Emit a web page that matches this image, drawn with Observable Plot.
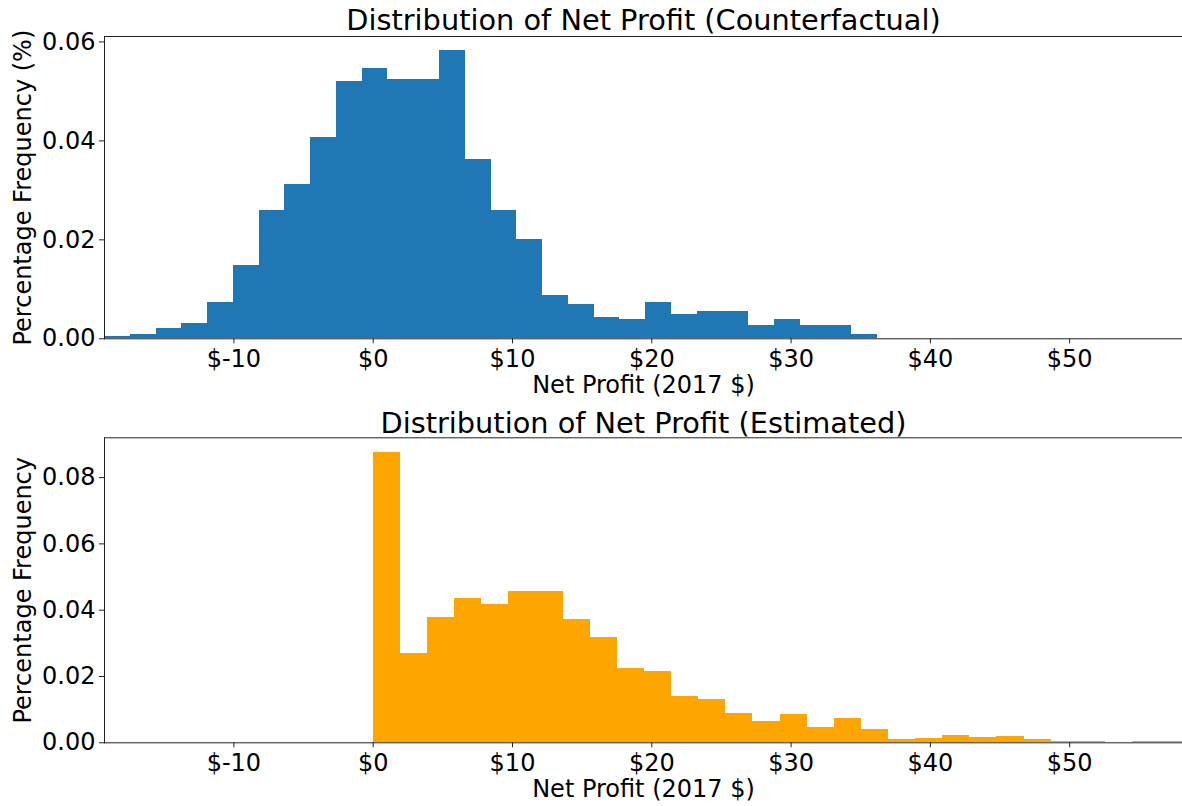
<!DOCTYPE html>
<html>
<head>
<meta charset="utf-8">
<script src="https://cdn.jsdelivr.net/npm/d3@7"></script>
<script src="https://cdn.jsdelivr.net/npm/@observablehq/plot@0.6"></script>
<style>
  html, body { margin: 0; padding: 0; background: #fff; }
  #chart svg { display: block; }
</style>
</head>
<body>
<div id="chart"></div>
<script>
// ---- Data ----
// Counterfactual histogram: bin edges (2017 $) and frequencies
const topEdges = [-19.29, -17.44, -15.59, -13.74, -11.89, -10.04, -8.19, -6.34, -4.49, -2.64,
  -0.79, 1.06, 2.91, 4.76, 6.61, 8.46, 10.31, 12.16, 14.01, 15.86,
  17.71, 19.56, 21.41, 23.26, 25.11, 26.96, 28.81, 30.66, 32.51, 34.36, 36.21];
const topFreq = [0.0005, 0.0009, 0.0021, 0.0030, 0.0074, 0.0148, 0.0259, 0.0311, 0.0406, 0.0521,
  0.0546, 0.0525, 0.0525, 0.0582, 0.0362, 0.0259, 0.0201, 0.0088, 0.0069, 0.0044,
  0.0040, 0.0074, 0.0049, 0.0056, 0.0056, 0.0026, 0.0039, 0.0026, 0.0026, 0.0009];

// Estimated histogram: bin edges (2017 $) and frequencies
const botEdges = [0, 1.95, 3.89, 5.84, 7.79, 9.74, 11.68, 13.63, 15.58, 17.52,
  19.47, 21.42, 23.36, 25.31, 27.26, 29.21, 31.15, 33.10, 35.05, 36.99,
  38.94, 40.89, 42.83, 44.78, 46.73, 48.68, 50.62, 52.57, 54.52, 56.46, 58.41];
const botFreq = [0.0876, 0.0269, 0.0377, 0.0436, 0.0416, 0.0455, 0.0457, 0.0373, 0.0318, 0.0223,
  0.0215, 0.0139, 0.0131, 0.0089, 0.0064, 0.0084, 0.0047, 0.0073, 0.0039, 0.0009,
  0.0014, 0.0023, 0.0015, 0.0018, 0.0009, 0.0005, 0.0005, 0, 0.0005, 0.0005];

const xTicks = [-10, 0, 10, 20, 30, 40, 50];
const topYTicks = [0, 0.02, 0.04, 0.06];
const botYTicks = [0, 0.02, 0.04, 0.06, 0.08];

const topTitle = "Distribution of Net Profit (Counterfactual)";
const botTitle = "Distribution of Net Profit (Estimated)";
const xLabel = "Net Profit (2017 $)";
const topYLabel = "Percentage Frequency (%)";
const botYLabel = "Percentage Frequency";

const xDomain = [-19.29, 58.1];
const FONT = "DejaVu Sans";
const AX = "#222";

function hist({edges, freq, color, yMax, yTicks, title, yLabel, height, marginTop, marginBottom, titleDy, xLabelDy}) {
  const idx = d3.range(freq.length);
  return Plot.plot({
    width: 1182,
    height,
    marginLeft: 104,
    marginRight: 0,
    marginTop,
    marginBottom,
    style: {fontFamily: FONT, color: "#000", background: "#fff", overflow: "visible"},
    x: {domain: xDomain},
    y: {domain: [0, yMax]},
    marks: [
      Plot.rectY(idx, {
        x1: i => edges[i], x2: i => edges[i + 1], y: i => freq[i],
        fill: color, clip: true, shapeRendering: "crispEdges"
      }),
      Plot.frame({anchor: "top", stroke: AX, strokeWidth: 1}),
      Plot.frame({anchor: "left", stroke: AX, strokeWidth: 1}),
      Plot.frame({anchor: "bottom", stroke: AX, strokeWidth: 1}),
      Plot.axisX({
        ticks: xTicks, tickFormat: d => "$" + d, tickSize: 5, tickPadding: 6,
        fontSize: 24, label: null, stroke: AX
      }),
      Plot.axisY({
        ticks: yTicks, tickFormat: d3.format(".2f"), tickSize: 5, tickPadding: 4,
        fontSize: 24, label: null, stroke: AX
      }),
      Plot.text([title], {frameAnchor: "top", textAnchor: "middle", lineAnchor: "bottom", dy: titleDy, fontSize: 28.8, fill: "#000"}),
      Plot.text([xLabel], {frameAnchor: "bottom", textAnchor: "middle", lineAnchor: "middle", dy: xLabelDy, fontSize: 24, fill: "#000"}),
      Plot.text([yLabel], {frameAnchor: "left", textAnchor: "middle", lineAnchor: "middle", rotate: -90, dx: -81, fontSize: 24, fill: "#000"})
    ]
  });
}

const chart = document.getElementById("chart");
chart.append(hist({
  edges: topEdges, freq: topFreq, color: "#1f77b4", yMax: 0.0611, yTicks: topYTicks,
  title: topTitle, yLabel: topYLabel, height: 410, marginTop: 36, marginBottom: 71.7,
  titleDy: -7, xLabelDy: 47
}));
chart.append(hist({
  edges: botEdges, freq: botFreq, color: "#ffa500", yMax: 0.092, yTicks: botYTicks,
  title: botTitle, yLabel: botYLabel, height: 396, marginTop: 27.3, marginBottom: 63.7,
  titleDy: -5, xLabelDy: 47
}));
</script>
</body>
</html>
